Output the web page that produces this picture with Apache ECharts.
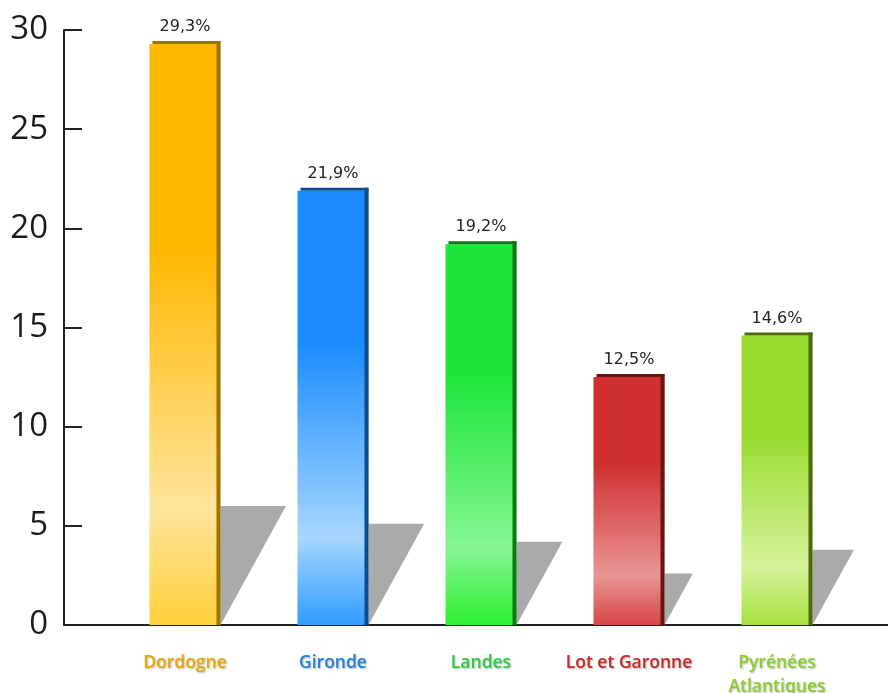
<!DOCTYPE html>
<html>
<head>
<meta charset="utf-8">
<script src="https://cdn.jsdelivr.net/npm/echarts@6/dist/echarts.min.js"></script>
<style>
  html, body { margin: 0; padding: 0; background: #fff; }
  #chart { width: 888px; height: 693px; }
</style>
</head>
<body>
<div id="chart"></div>
<script>
const departements = ['Dordogne', 'Gironde', 'Landes', 'Lot et Garonne', 'Pyrénées\nAtlantiques'];
const parts = [29.3, 21.9, 19.2, 12.5, 14.6];
// height of the grey drop shadow next to each bar, in axis units
const ombres = [6.0, 5.1, 4.2, 2.6, 3.8];
const yMin = 0;
const yMax = 30;
const yStep = 5;

// top / light / bottom / dark edge / label colour
const couleurs = [
  ['#ffb800', '#ffe49c', '#ffcf3a', '#9c7400', '#eca800'],
  ['#1a8cff', '#a6d6ff', '#2f9cff', '#0a4c8e', '#1e80e0'],
  ['#1ee53a', '#86f594', '#2ef030', '#0a7a12', '#2ecc40'],
  ['#cf3030', '#e99494', '#d64646', '#661414', '#c82828'],
  ['#99dd30', '#d6f29c', '#a6e03c', '#4c6a10', '#8ccf28']
];

const BAR_W = 71;

const chart = echarts.init(document.getElementById('chart'));

const barData = parts.map((v, i) => ({
  value: v,
  itemStyle: {
    color: new echarts.graphic.LinearGradient(0, 0, 0, 1, [
      { offset: 0, color: couleurs[i][0] },
      { offset: 0.35, color: couleurs[i][0] },
      { offset: 0.8, color: couleurs[i][1] },
      { offset: 1, color: couleurs[i][2] }
    ])
  }
}));

const option = {
  backgroundColor: '#fff',
  animation: false,
  grid: [
    { left: 111, right: 37, top: 30, bottom: 68, outerBoundsMode: 'none' },
    { left: 64, right: 0, top: 30, bottom: 68, outerBoundsMode: 'none' }
  ],
  xAxis: [
    {
      type: 'category',
      gridIndex: 0,
      data: departements,
      axisLine: { show: false },
      axisTick: { show: false },
      axisLabel: {
        interval: 0,
        margin: 26,
        fontFamily: 'Open Sans',
        fontSize: 17.5,
        fontWeight: 600,
        lineHeight: 24,
        color: (val) => couleurs[departements.indexOf(val)][4],
        textShadowColor: 'rgba(0,0,0,0.3)',
        textShadowBlur: 2,
        textShadowOffsetX: 1,
        textShadowOffsetY: 1
      }
    },
    {
      type: 'value',
      gridIndex: 1,
      axisLine: { show: true, onZero: false, lineStyle: { color: '#222', width: 2 } },
      axisTick: { show: false },
      axisLabel: { show: false },
      splitLine: { show: false }
    }
  ],
  yAxis: [
    { type: 'value', gridIndex: 0, min: yMin, max: yMax, show: false },
    {
      type: 'value',
      gridIndex: 1,
      min: yMin,
      max: yMax,
      interval: yStep,
      axisLine: { show: true, lineStyle: { color: '#222', width: 2 } },
      axisTick: { show: true, inside: true, length: 18, lineStyle: { color: '#222', width: 2 } },
      axisLabel: { margin: 16, fontFamily: 'Open Sans', fontSize: 33, color: '#1a1a1a' },
      splitLine: { show: false }
    }
  ],
  series: [
    {
      type: 'bar',
      xAxisIndex: 0,
      yAxisIndex: 0,
      barWidth: BAR_W,
      data: barData,
      z: 2,
      label: {
        show: true,
        position: 'top',
        distance: 9,
        fontFamily: 'DejaVu Sans',
        fontSize: 16,
        color: '#222',
        formatter: p => String(p.value).replace('.', ',') + '%'
      }
    },
    {
      type: 'custom',
      xAxisIndex: 0,
      yAxisIndex: 0,
      z: 3,
      data: parts.map((v, i) => [i, v, ombres[i]]),
      encode: { x: 0, y: 1 },
      renderItem: (params, api) => {
        const i = api.value(0);
        const base = api.coord([i, 0]);
        const top = api.coord([i, api.value(1)]);
        const sh = api.coord([i, api.value(2)]);
        const left = base[0] - BAR_W / 2;
        const right = base[0] + BAR_W / 2;
        const sW = (base[1] - sh[1]) * 0.55;
        const edge = couleurs[i][3];
        return {
          type: 'group',
          children: [
            {
              type: 'polygon',
              shape: { points: [[right, base[1]], [right, sh[1]], [right + sW, sh[1]]] },
              style: { fill: '#aaaaaa' }
            },
            {
              type: 'rect',
              shape: { x: left + 3, y: top[1] - 3, width: BAR_W - 3, height: 3 },
              style: { fill: edge }
            },
            {
              type: 'rect',
              shape: { x: right - 4, y: top[1] - 3, width: 4, height: base[1] - top[1] + 3 },
              style: { fill: edge }
            }
          ]
        };
      }
    }
  ]
};

chart.setOption(option);
</script>
</body>
</html>
